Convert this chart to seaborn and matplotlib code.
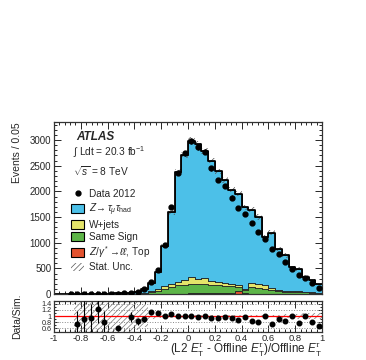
import numpy as np
import pandas as pd
import seaborn as sns
import matplotlib.pyplot as plt
from matplotlib.patches import Patch
from matplotlib.lines import Line2D
from matplotlib.ticker import MultipleLocator

# binning: (L2 - offline)/offline, 0.05 wide bins
edges = np.round(np.arange(-1.0, 1.0001, 0.05), 3)
centers = 0.5 * (edges[:-1] + edges[1:])

# stacked simulation, events per bin
ztt = [0, 0, 0, 7, 7, 7, 7, 10, 8, 17, 17, 26, 39, 86,
       160, 344, 789, 1395, 2151, 2437, 2665, 2621, 2478, 2347,
       2156, 2006, 1835, 1775, 1586, 1432, 1305, 930, 1078, 796,
       690, 455, 437, 290, 238, 179]
wjets = [0, 0, 0, 0, 0, 0, 0, 0, 0, 1, 1, 2, 3, 8,
         20, 26, 52, 52, 65, 91, 125, 104, 117, 78,
         65, 58, 39, 32, 26, 78, 85, 71, 46, 26,
         26, 20, 19, 6, 6, 6]
same_sign = [0, 0, 0, 0, 0, 0, 0, 0, 0, 1, 2, 3, 4, 8,
             29, 60, 96, 133, 157, 170, 186, 181, 179, 159,
             151, 138, 138, 88, 63, 118, 98, 92, 61, 48,
             31, 37, 33, 33, 21, 16]
zll_top = [0, 0, 0, 0, 0, 0, 0, 0, 0, 0, 0, 0, 0, 0,
           3, 5, 8, 10, 12, 12, 14, 14, 16, 16,
           18, 18, 18, 55, 15, 12, 12, 12, 10, 10,
           8, 8, 6, 6, 5, 4]

data = [0, 0, 4, 5, 6, 7, 9, 8, 10, 12, 20, 30, 38, 91,
        240, 467, 955, 1690, 2364, 2740, 2985, 2858, 2773, 2448,
        2221, 2104, 1880, 1680, 1560, 1380, 1212, 1066, 875, 779,
        630, 481, 370, 305, 221, 123]

# relative MC stat. uncertainty
stat_rel = [0, 0, 0, 1, 1, 1, 1, 1, 1, 1, 1, 0.5, 0.45, 0.35,
            0.1, 0.06, 0.04, 0.03, 0.02, 0.02, 0.02, 0.02, 0.02, 0.02,
            0.02, 0.025, 0.025, 0.025, 0.03, 0.03, 0.035, 0.04, 0.04, 0.05,
            0.06, 0.07, 0.08, 0.09, 0.1, 0.1]

# Data/Sim. ratio and its error
ratio = [np.nan, np.nan, np.nan, 0.75, 0.90, 0.95, 1.23, 0.82, np.nan, 0.63,
         np.nan, 0.97, 0.83, 0.89, 1.13, 1.09, 1.01, 1.07, 0.99, 1.01,
         1.01, 0.98, 1.00, 0.95, 0.95, 0.96, 0.94, 0.88, 0.97, 0.85,
         0.82, 1.00, 0.75, 0.91, 0.85, 1.00, 0.79, 1.00, 0.81, 0.69]
ratio_err = [0, 0, 0, 0.42, 0.6, 0.45, 0.45, 0.35, 0, 0.05,
             0, 0.15, 0.12, 0.08, 0.04, 0.03, 0.02, 0.02, 0.01, 0.01,
             0.01, 0.01, 0.01, 0.01, 0.01, 0.01, 0.01, 0.01, 0.01, 0.01,
             0.02, 0.02, 0.02, 0.02, 0.02, 0.03, 0.03, 0.03, 0.04, 0.05]

procs = ["ztt", "wjets", "ss", "top"]
colors = {"ztt": "#4cc0e8", "wjets": "#e4e46a", "ss": "#5db548", "top": "#e2522f"}

df = pd.DataFrame({
    "x": np.tile(centers, 4),
    "w": np.concatenate([ztt, wjets, same_sign, zll_top]).astype(float),
    "proc": np.repeat(procs, len(centers)),
})
total = np.array(ztt) + np.array(wjets) + np.array(same_sign) + np.array(zll_top)
rel = np.array(stat_rel)
bin_list = [float(e) for e in edges]

sns.set_theme(style="ticks")
plt.rcParams["font.family"] = ["Liberation Sans", "DejaVu Sans"]
plt.rcParams["mathtext.fontset"] = "custom"
plt.rcParams["mathtext.rm"] = "Liberation Sans"
plt.rcParams["mathtext.it"] = "Liberation Sans:italic"
plt.rcParams["mathtext.bf"] = "Liberation Sans:bold"
plt.rcParams["hatch.linewidth"] = 0.5
plt.rcParams["hatch.color"] = "#555555"

fig = plt.figure(figsize=(3.66, 3.6), dpi=100)
ax = fig.add_axes([0.1475, 0.183, 0.7325, 0.478])
axr = fig.add_axes([0.1475, 0.079, 0.7325, 0.086], sharex=ax)

# stacked histogram
sns.histplot(data=df, x="x", weights="w", hue="proc", hue_order=procs,
             multiple="stack", bins=bin_list, element="step", palette=colors,
             alpha=1, linewidth=0.6, edgecolor="#222222", legend=False, ax=ax)
sns.histplot(x=centers, weights=total.astype(float), bins=bin_list, element="step",
             fill=False, color="black", linewidth=1.3, ax=ax)

# stat band
ax.stairs(total * (1 + rel), edges, baseline=total * (1 - rel), fill=True,
          facecolor="none", edgecolor="#555555", hatch="//////", linewidth=0)

# data
d = np.array(data, dtype=float)
m = d > 0
ax.errorbar(centers[m], d[m], yerr=np.sqrt(d[m]), fmt="o", color="black",
            markersize=3.5, elinewidth=0.8, capsize=0, zorder=5)

ax.set_xlim(-1, 1)
ax.set_ylim(0, 3350)
ax.yaxis.set_major_locator(MultipleLocator(500))
ax.yaxis.set_minor_locator(MultipleLocator(100))
ax.xaxis.set_major_locator(MultipleLocator(0.2))
ax.xaxis.set_minor_locator(MultipleLocator(0.04))
ax.set_ylabel("Events / 0.05", loc="top", fontsize=7.5)
ax.yaxis.set_label_coords(-0.118, 1.0)
ax.set_xlabel("")
ax.tick_params(labelbottom=False)

ax.text(0.082, 0.915, "ATLAS", transform=ax.transAxes, fontsize=8.5,
        fontweight="bold", fontstyle="italic", va="center")
ax.text(0.07, 0.826, r"$\int$ Ldt = 20.3 fb$^{-1}$", transform=ax.transAxes,
        fontsize=7.3, va="center")
ax.text(0.07, 0.715, r"$\sqrt{s}$ = 8 TeV", transform=ax.transAxes,
        fontsize=7.3, va="center")

handles = [
    Line2D([], [], marker="o", color="black", linestyle="none", markersize=3.5),
    Patch(facecolor=colors["ztt"], edgecolor="black", linewidth=0.8),
    Patch(facecolor=colors["wjets"], edgecolor="black", linewidth=0.8),
    Patch(facecolor=colors["ss"], edgecolor="black", linewidth=0.8),
    Patch(facecolor=colors["top"], edgecolor="black", linewidth=0.8),
    Patch(facecolor="none", edgecolor="#555555", hatch="//////", linewidth=0),
]
labels = ["Data 2012", r"$Z\!\rightarrow\tau_{\mu}\tau_{\mathrm{had}}$", "W+jets",
          "Same Sign", r"$Z/\gamma^*\!\rightarrow\!\ell\ell$, Top", "Stat. Unc."]
ax.legend(handles, labels, loc="upper left", bbox_to_anchor=(0.065, 0.61),
          frameon=False, fontsize=7.2, handlelength=1.3, handleheight=0.95,
          labelspacing=0.22, handletextpad=0.5, borderpad=0, borderaxespad=0)

# ratio panel
axr.stairs(np.minimum(1 + rel, 2), edges, baseline=np.maximum(1 - rel, 0), fill=True,
           facecolor="none", edgecolor="#777777", hatch="//////", linewidth=0)
for yv in [0.6, 0.8, 1.2, 1.4]:
    axr.axhline(yv, color="#888888", linestyle=":", linewidth=0.7)
axr.axhline(1, color="red", linewidth=0.9)
axr.errorbar(centers, ratio, yerr=ratio_err, fmt="o", color="black",
             markersize=3.3, elinewidth=0.8, capsize=0, zorder=5)
axr.set_ylim(0.5, 1.5)
axr.set_yticks([0.6, 0.8, 1, 1.2, 1.4])
axr.set_yticklabels(["0.6", "0.8", "1", "1.2", "1.4"])
axr.yaxis.set_minor_locator(MultipleLocator(0.1))
axr.set_xticks(np.round(np.arange(-1, 1.01, 0.2), 1))
axr.set_xticklabels(["-1", "-0.8", "-0.6", "-0.4", "-0.2", "0", "0.2", "0.4", "0.6", "0.8", "1"])
axr.set_ylabel("Data/Sim.", fontsize=7.5)
axr.yaxis.set_label_coords(-0.118, 0.5)
axr.set_xlabel(r"(L2 $E_{\mathrm{T}}^{\tau}$ - Offline $E_{\mathrm{T}}^{\tau}$)/Offline $E_{\mathrm{T}}^{\tau}$",
               loc="right", fontsize=8.4, labelpad=-0.5)

for a in (ax, axr):
    a.tick_params(which="both", direction="in", top=True, right=True,
                  labelsize=7, width=0.7, pad=2)
    a.tick_params(which="major", length=5)
    a.tick_params(which="minor", length=2.5)
    for s in a.spines.values():
        s.set_linewidth(0.9)
        s.set_color("#333333")
axr.tick_params(which="major", axis="y", length=3)
axr.tick_params(which="minor", axis="y", length=1.5)
axr.tick_params(axis="y", labelsize=5.2, pad=1.5)
axr.tick_params(axis="x", pad=1.5, labelsize=6.8)

fig.savefig("out.png", dpi=100)
